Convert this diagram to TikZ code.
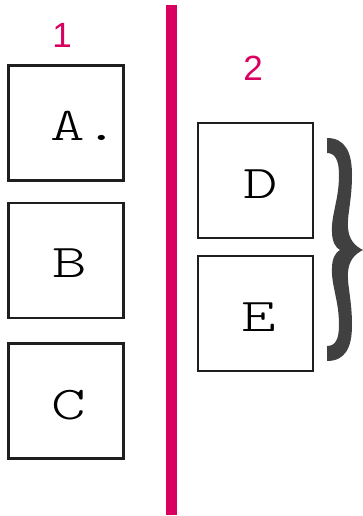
\documentclass[tikz,border=0pt]{standalone}
\usepackage{fontspec}
\usepackage{graphicx}
\setmainfont{Liberation Sans}
\newfontfamily\lmlight{lmmonolt10-regular.otf}
\definecolor{pinkline}{RGB}{217,0,96}
\definecolor{bracegray}{RGB}{64,64,64}
\definecolor{boxline}{RGB}{30,30,30}
\tikzset{
  sq/.style={draw=boxline, line width=2.4pt, minimum width=115pt, minimum height=115pt, inner sep=0pt},
  lett/.style={inner sep=0pt, font=\lmlight\fontsize{47}{47}\selectfont},
  num/.style={inner sep=0pt, text=pinkline, font=\fontsize{35}{35}\selectfont}
}
\newcommand{\wide}[1]{\scalebox{1.4}[1]{#1}}
\begin{document}
\begin{tikzpicture}[x=1pt,y=-1pt]
\useasboundingbox (0,0) rectangle (363,516);
% divider
\draw[pinkline, line width=11pt] (171,5) coordinate (top) -- (171,515) coordinate (bot);
% numbers
\node[num] (n1) at (62,35) {1};
\node[num] (n2) at (253,68) {2};
% boxes column 1
\node[sq] (bA) at (66,123) {};
\node[sq] (bB) at (66,260.5) {};
\node[sq] (bC) at (66,401) {};
% boxes column 2
\node[sq] (bD) at (255.5,180.5) {};
\node[sq] (bE) at (255.5,313.5) {};
% letters
\node[lett, anchor=west] (tA) at (50,126) {\wide{A.}};
\node[lett] (tB) at (70,263) {\wide{B}};
\node[lett] (tC) at (69,405) {\wide{C}};
\node[lett] (tD) at (261,184) {\wide{D}};
\node[lett] (tE) at (259,317) {\wide{E}};
% brace
\fill[bracegray] (327,138) .. controls (345,138) and (352,152) .. (352,175)
 .. controls (352,200) and (347,215) .. (348,228)
 .. controls (349,240) and (355,246) .. (363,250)
 .. controls (355,254) and (349,260) .. (348,272)
 .. controls (347,285) and (352,300) .. (352,325)
 .. controls (352,348) and (345,361) .. (327,361)
 -- (327,346)
 .. controls (335,346) and (339,340) .. (339,325)
 .. controls (339,300) and (331,285) .. (332,268)
 .. controls (332,258) and (336,252) .. (340,250)
 .. controls (336,248) and (332,242) .. (332,232)
 .. controls (331,215) and (339,200) .. (339,175)
 .. controls (339,160) and (335,153) .. (327,153) -- cycle;
\end{tikzpicture}
\end{document}
